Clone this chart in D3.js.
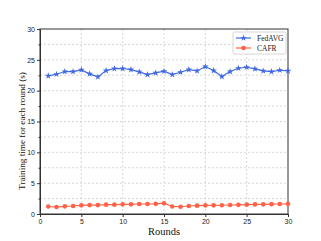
<!DOCTYPE html>
<meta charset="utf-8">
<style>
body { margin: 0; background: #fff; }
svg { display: block; font-family: "Liberation Serif", "DejaVu Serif", serif; }
.grid line { stroke: #ccc; stroke-dasharray: 2,2; stroke-width: 0.8px; }
.axis text { font-size: 7px; fill: #222; }
.axis path, .axis line { stroke: #333; }
</style>
<svg width="321" height="241"></svg>
<script src="https://d3js.org/d3.v7.min.js"></script>
<script>

var rounds = d3.range(1, 31);
var fedavg = [22.4, 22.66, 23.1, 23.1, 23.37, 22.72, 22.23, 23.26, 23.59, 23.59,
              23.42, 23.04, 22.61, 22.88, 23.15, 22.6, 22.99, 23.42, 23.2, 23.91,
              23.26, 22.28, 23.1, 23.64, 23.8, 23.53, 23.2, 23.1, 23.31, 23.2];
var cafr = [1.22, 1.13, 1.24, 1.3, 1.4, 1.45, 1.45, 1.51, 1.51, 1.57,
            1.57, 1.62, 1.62, 1.65, 1.75, 1.22, 1.18, 1.3, 1.35, 1.4,
            1.4, 1.42, 1.46, 1.48, 1.51, 1.55, 1.57, 1.6, 1.62, 1.65];
var xTicks = [0, 5, 10, 15, 20, 25, 30];
var yTicks = [0, 5, 10, 15, 20, 25, 30];
var yGrid = d3.range(0, 30.1, 2.5);
var names = ["FedAVG", "CAFR"];
var colors = ["#4169e1", "#ff6347"];

var svg = d3.select("svg"),
    margin = {left: 40, right: 33, top: 29, bottom: 27},
    width = +svg.attr("width") - margin.left - margin.right,
    height = +svg.attr("height") - margin.top - margin.bottom,
    g = svg.append("g").attr("transform", "translate(" + margin.left + "," + margin.top + ")");

var x = d3.scaleLinear().domain([0, 30]).range([0, width]);
var y = d3.scaleLinear().domain([0, 30]).range([height, 0]);

// grid
g.append("g").attr("class", "grid")
  .selectAll("line.gy").data(yGrid.slice(1, -1)).enter().append("line")
  .attr("x1", 0).attr("x2", width)
  .attr("y1", function(d) { return y(d); }).attr("y2", function(d) { return y(d); });
g.append("g").attr("class", "grid")
  .selectAll("line.gx").data(xTicks.slice(1, -1)).enter().append("line")
  .attr("y1", 0).attr("y2", height)
  .attr("x1", function(d) { return x(d); }).attr("x2", function(d) { return x(d); });

// axes
g.append("g").attr("class", "axis")
  .attr("transform", "translate(0," + height + ")")
  .call(d3.axisBottom(x).tickValues(xTicks).tickSize(3).tickPadding(2));
g.append("g").attr("class", "axis")
  .call(d3.axisLeft(y).tickValues(yTicks).tickSize(3).tickPadding(2));
g.append("g").attr("class", "axis")
  .call(d3.axisLeft(y).tickValues(yGrid.filter(function(d) { return d % 5; }))
    .tickSize(1.5).tickFormat(""))
  .select(".domain").remove();

g.append("rect")
  .attr("width", width).attr("height", height)
  .attr("fill", "none").attr("stroke", "#333").attr("stroke-width", 1);

var series = [fedavg, cafr];
var line = d3.line()
  .x(function(d, i) { return x(rounds[i]); })
  .y(function(d) { return y(d); });

var star = d3.symbol().type(d3.symbolStar).size(14);
var circ = d3.symbol().type(d3.symbolCircle).size(17);

series.forEach(function(s, k) {
  g.append("path").datum(s)
    .attr("fill", "none").attr("stroke", colors[k]).attr("stroke-width", 1.2)
    .attr("d", line);
  g.selectAll(null).data(s).enter().append("path")
    .attr("transform", function(d, i) { return "translate(" + x(rounds[i]) + "," + y(d) + ")"; })
    .attr("d", k === 0 ? star : circ)
    .attr("fill", colors[k]);
});

// legend
var lg = g.append("g").attr("transform", "translate(" + (width - 55) + ",3)");
lg.append("rect")
  .attr("width", 53).attr("height", 22).attr("rx", 1.5)
  .attr("fill", "#fff").attr("stroke", "#ccc").attr("stroke-width", 0.8);
names.forEach(function(n, k) {
  var yy = 6 + k * 10;
  lg.append("line").attr("x1", 3).attr("x2", 18).attr("y1", yy).attr("y2", yy)
    .attr("stroke", colors[k]).attr("stroke-width", 1.2);
  lg.append("path").attr("transform", "translate(10.5," + yy + ")")
    .attr("d", k === 0 ? star : circ).attr("fill", colors[k]);
  lg.append("text").attr("x", 24).attr("y", yy + 2.5)
    .attr("font-size", 7.5).attr("fill", "#222").text(n);
});

// axis titles
svg.append("text")
  .attr("x", margin.left + width / 2).attr("y", 235)
  .attr("text-anchor", "middle").attr("font-size", 10.5).attr("fill", "#111")
  .text("Rounds");
svg.append("text")
  .attr("transform", "translate(25,131) rotate(-90)")
  .attr("text-anchor", "middle").attr("font-size", 9.2).attr("fill", "#111")
  .text("Training time for each round (s)");

</script>
